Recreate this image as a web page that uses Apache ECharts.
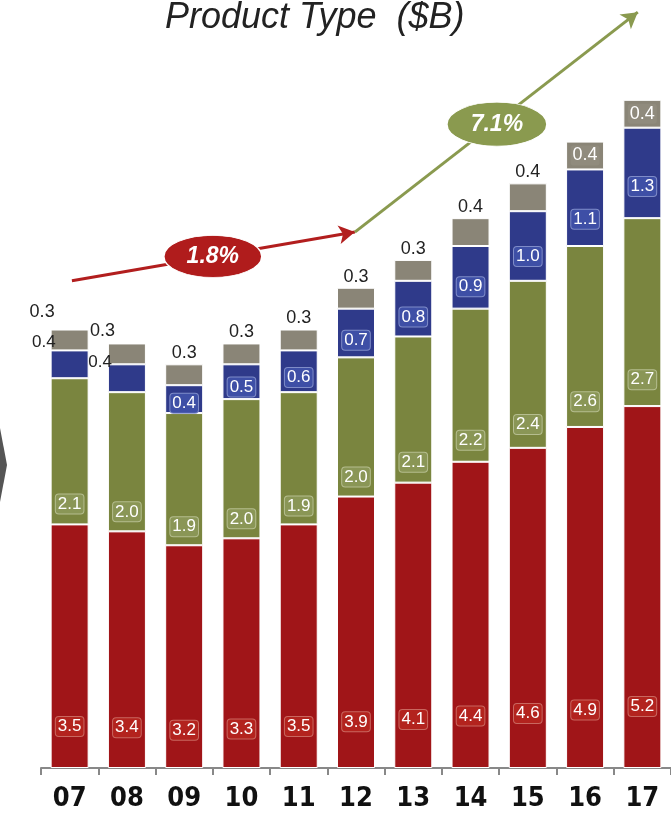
<!DOCTYPE html>
<html>
<head>
<meta charset="utf-8">
<script src="https://cdn.jsdelivr.net/npm/echarts@6/dist/echarts.min.js"></script>
<style>
  html, body { margin: 0; padding: 0; background: #fff; }
  #main { width: 671px; height: 814px; }
</style>
</head>
<body>
<div id="main"></div>
<script>
// 年份 (x 轴)
var years = ['07', '08', '09', '10', '11', '12', '13', '14', '15', '16', '17'];
// 各产品类型 ($B)
var redVals   = [3.5, 3.4, 3.2, 3.3, 3.5, 3.9, 4.1, 4.4, 4.6, 4.9, 5.2];
var greenVals = [2.1, 2.0, 1.9, 2.0, 1.9, 2.0, 2.1, 2.2, 2.4, 2.6, 2.7];
var blueVals  = [0.4, 0.4, 0.4, 0.5, 0.6, 0.7, 0.8, 0.9, 1.0, 1.1, 1.3];
var grayVals  = [0.3, 0.3, 0.3, 0.3, 0.3, 0.3, 0.3, 0.4, 0.4, 0.4, 0.4];
// 增长率标注
var growthLabels = ['1.8%', '7.1%'];

var labelBase = {
    show: true,
    color: '#fff',
    fontSize: 17,
    fontFamily: 'Liberation Sans',
    padding: [2, 2, 0, 2],
    borderRadius: 3,
    formatter: function (p) { return p.value.toFixed(1); }
};

function segLabel(bg, border, pos) {
    return Object.assign({}, labelBase, {
        position: pos,
        align: 'center',
        verticalAlign: 'middle',
        backgroundColor: bg,
        borderColor: border,
        borderWidth: 1
    });
}

var outsideLabel = { color: '#222', backgroundColor: 'transparent', borderWidth: 0, position: 'left', align: 'right' };

var blueData = blueVals.map(function (v, i) {
    if (i === 0) return { value: v, label: Object.assign({}, outsideLabel, { offset: [12, -22] }) };
    if (i === 1) return { value: v, label: Object.assign({}, outsideLabel, { offset: [11, -16] }) };
    return v;
});
var grayData = grayVals.map(function (v, i) {
    if (i === 0) return { value: v, label: Object.assign({}, outsideLabel, { offset: [8, -28] }) };
    if (i === 1) return { value: v, label: Object.assign({}, outsideLabel, { offset: [11, -23] }) };
    if (i >= 9) return { value: v, label: { position: 'inside', color: '#fff', backgroundColor: '#908b7d', verticalAlign: 'middle' } };
    return v;
});

var myChart = echarts.init(document.getElementById('main'));
myChart.setOption({
    animation: false,
    backgroundColor: '#fff',
    title: {
        text: 'Product Type  ($B)',
        left: 160,
        top: -5,
        textStyle: { fontFamily: 'Liberation Sans', fontStyle: 'italic', fontWeight: 'normal', fontSize: 36, color: '#222' }
    },
    grid: { left: 41, right: 0, top: 2.4, bottom: 46 },
    xAxis: [{
        type: 'category',
        data: years,
        axisLine: { lineStyle: { color: '#888', width: 2 } },
        axisTick: { show: true, length: 7, lineStyle: { color: '#888', width: 2 } },
        axisLabel: { color: '#111', fontSize: 27, fontWeight: 'bold', fontFamily: "'DejaVu Sans Condensed', 'Liberation Sans', sans-serif", margin: 17 }
    }, {
        // 标注用的隐藏数值轴
        type: 'value', min: -0.5, max: 10.5, show: false, splitLine: { show: false }
    }],
    yAxis: { type: 'value', min: 0, max: 11, show: false, splitLine: { show: false } },
    graphic: [{
        type: 'polygon',
        shape: { points: [[0, 428], [7, 465], [0, 502]] },
        style: { fill: '#555' }
    }],
    series: [{
        name: 'Type A', type: 'bar', stack: 'total', barWidth: 38,
        data: redVals,
        itemStyle: { color: '#a01518', borderColor: '#fff', borderWidth: 1 },
        label: segLabel('#b3231e', '#c9675f', ['50%', '83%'])
    }, {
        name: 'Type B', type: 'bar', stack: 'total', barWidth: 38,
        data: greenVals,
        itemStyle: { color: '#7a853f', borderColor: '#fff', borderWidth: 1 },
        label: segLabel('#8a9656', '#b5bd8f', ['50%', '86%'])
    }, {
        name: 'Type C', type: 'bar', stack: 'total', barWidth: 38,
        data: blueData,
        itemStyle: { color: '#2f3a8a', borderColor: '#fff', borderWidth: 1 },
        label: segLabel('#3e4fa6', '#7f8cc8', ['50%', '65%'])
    }, {
        name: 'Type D', type: 'bar', stack: 'total', barWidth: 38,
        data: grayData,
        itemStyle: { color: '#8a8577', borderColor: '#fff', borderWidth: 1 },
        label: Object.assign({}, labelBase, { position: 'top', color: '#222', fontSize: 18, distance: 2 })
    }, {
        name: 'Growth', type: 'line', xAxisIndex: 1, data: [],
        markLine: {
            silent: true,
            symbol: ['none', 'arrow'],
            symbolSize: [14, 16],
            label: { show: false },
            data: [
                [{ coord: [0.04, 7.0], lineStyle: { color: '#b21e1e', width: 3, type: 'solid' } }, { coord: [4.98, 7.7] }],
                [{ coord: [4.98, 7.7], lineStyle: { color: '#8a9a4f', width: 3, type: 'solid' } }, { coord: [9.92, 10.86] }]
            ]
        },
        markPoint: {
            silent: true,
            symbol: 'circle',
            label: { show: true, color: '#fff', fontSize: 23, fontWeight: 'bold', fontStyle: 'italic', fontFamily: 'Liberation Sans' },
            data: [
                { coord: [2.5, 7.35], value: growthLabels[0], symbolSize: [98, 42],
                  itemStyle: { color: '#b01c1c', borderColor: '#fff', borderWidth: 1 } },
                { coord: [7.46, 9.25], value: growthLabels[1], symbolSize: [100, 44],
                  itemStyle: { color: '#8a9a4f', borderColor: '#fff', borderWidth: 1 } }
            ]
        }
    }]
});
</script>
</body>
</html>
